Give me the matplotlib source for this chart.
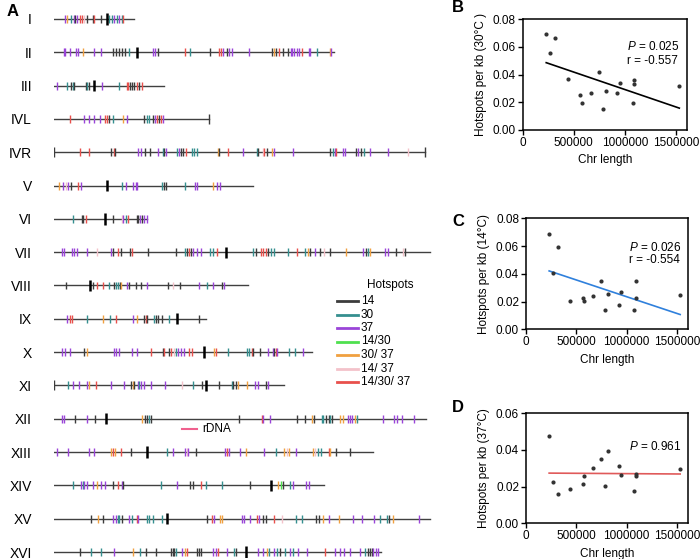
"""Hotspot map along yeast chromosomes (A) + hotspot density vs chromosome length (B-D)."""
import matplotlib

matplotlib.use("Agg")
import matplotlib.pyplot as plt
import numpy as np
from matplotlib.lines import Line2D
from matplotlib.ticker import FormatStrFormatter

plt.rcParams["font.family"] = ["Liberation Sans", "DejaVu Sans"]
plt.rcParams["mathtext.fontset"] = "custom"
plt.rcParams["mathtext.it"] = "Liberation Sans:italic"
plt.rcParams["mathtext.rm"] = "Liberation Sans"

# ---------------------------------------------------------------- panel A data
CHR_NAMES = ["I", "II", "III", "IVL", "IVR", "V", "VI", "VII", "VIII", "IX",
             "X", "XI", "XII", "XIII", "XIV", "XV", "XVI"]
CHR_LEN_KB = [230, 813, 317, 449, 1077, 577, 270, 1091, 563, 440,
              747, 667, 1079, 924, 784, 1091, 948]
CEN_KB = [152, 239, 116, None, None, 152, 148, 497, 105, 355,
          435, 440, 150, 268, 628, 326, 556]
EDGE_KB = [[], [], [], [449], [0, 1077], [], [], [], [], [],
           [], [0], [], [], [], [], []]

# hotspot type codes: a=14 b=30 c=37 d=14/30 e=30/37 f=14/37 g=14/30/37
HS_CODES = "abcdefg"
HS_LABELS = ["14", "30", "37", "14/30", "30/ 37", "14/ 37", "14/30/ 37"]
HS_COLORS = ["#3c3c3c", "#358f8f", "#9a45d8", "#4fe04f", "#f0a040", "#f3c2ca", "#e8504c"]

hs_I = [31, 37, 48, 57, 61, 67, 75, 80, 85, 94, 111, 116, 135, 159, 167, 173, 181, 189, 196, 200]
ty_I = "cebcacggfaagabbcbcbg"
hs_II = [28, 32, 45, 64, 70, 84, 116, 136, 171, 179, 188, 196, 205, 218, 287, 292, 302, 380, 394,
         452, 477, 483, 491, 500, 506, 515, 564, 633, 637, 644, 653, 663, 679, 686, 691, 697, 704,
         711, 718, 738, 742, 762, 799, 803]
ty_II = "cccccecc" "aaaaab" "ccagb" "aggcaccc" "aeagaa" "ccccc" "gccbec"
hs_III = [9, 36, 49, 53, 57, 91, 96, 102, 139, 188, 210, 215, 220, 225, 231, 239, 247, 254]
ty_III = "cbabaabacbggaaagag"
hs_IVL = [47, 87, 102, 116, 133, 147, 154, 160, 169, 198, 212, 261, 268, 275, 287, 292, 297, 303, 309, 315]
ty_IVL = "gccccggabecabbacgagc"
hs_IVR = [75, 102, 165, 172, 177, 242, 252, 264, 278, 300, 315, 318, 323, 356, 361, 368, 374, 383,
          400, 405, 414, 474, 479, 503, 547, 589, 592, 605, 610, 617, 631, 639, 692, 801, 809, 815,
          818, 837, 844, 876, 883, 891, 900, 916, 970, 1026]
ty_IVR = "ggaga" "ccaac" "bacbc" "aagbb" "beagc" "bafga" "eccab" "cgcca" "cabcc" "f"
hs_V = [15, 26, 33, 39, 49, 70, 78, 196, 207, 227, 236, 241, 312, 317, 324, 378, 409, 415, 462, 473, 481]
ty_V = "ecfcagcbccccbaabccecc"
hs_VI = [55, 79, 84, 92, 171, 196, 200, 208, 213, 239, 244, 249, 256, 260, 268]
ty_VI = "baagafcbgaacacc"
hs_VII = [23, 28, 52, 57, 65, 94, 123, 165, 171, 186, 194, 220, 225, 273, 352, 380, 386, 390, 396,
          402, 413, 426, 452, 460, 473, 578, 585, 599, 607, 615, 620, 628, 638, 678, 704, 729, 735,
          741, 756, 770, 783, 801, 847, 895, 904, 911, 917, 960, 968, 992, 1013, 1018]
ty_VII = "ccccccfcag" "aagaabagac" "ccbbgbaggg" "abbbgbeaca" "faecabecca" "fa"
hs_VIII = [34, 111, 123, 142, 160, 173, 178, 186, 191, 194, 210, 218, 237, 251, 268, 329, 346, 365,
           421, 442, 462, 486, 492]
ty_VIII = "aaggbabbaecaaacafacbcac"
hs_IX = [38, 45, 51, 96, 140, 162, 178, 227, 239, 260, 265, 270, 290, 295, 302, 312, 334, 420]
ty_IX = "cggbebgceagabaaaba"
hs_X = [22, 32, 45, 87, 96, 173, 179, 187, 225, 239, 280, 315, 319, 334, 338, 348, 352, 358, 367,
        377, 392, 401, 465, 469, 505, 559, 566, 573, 578, 597, 620, 634, 638, 643, 646, 682, 699, 723]
ty_X = "cccaeccccc" "gagagfbccc" "ggegbbbgaa" "ccagcbbc"
hs_XI = [41, 55, 72, 94, 102, 120, 165, 202, 223, 227, 232, 242, 247, 251, 261, 280, 321, 370, 404,
         428, 477, 515, 520, 527, 532, 559, 583, 590, 614, 619]
ty_XI = "bcccegccae" "acbccccfba" "abaaeeccac"
hs_XII = [23, 29, 60, 94, 118, 254, 263, 268, 276, 281, 537, 602, 605, 626, 704, 728, 747, 755, 776,
          781, 788, 796, 801, 806, 830, 837, 852, 857, 863, 873, 878, 953, 987, 996, 1009, 1043]
ty_XII = "ccacaeaaba" "agccaaeabb" "aabaeeccce" "bccccc"
hs_XIII = [7, 41, 102, 116, 166, 171, 176, 193, 222, 326, 346, 378, 384, 389, 410, 496, 501, 507,
           539, 557, 610, 644, 668, 675, 682, 702, 752, 757, 765, 774, 796, 801, 818, 857]
ty_XIII = "ccccegegab" "ccfcacgcce" "cbefecefbb" "geaa"
hs_XIV = [53, 77, 82, 86, 96, 111, 123, 136, 147, 169, 186, 196, 200, 310, 355, 394, 402, 426, 440,
          488, 568, 650, 657, 663, 684, 692, 731, 738]
ty_XIV = "bcbcccecca" "gcabcaagbb" "aedabccc"
hs_XV = [106, 128, 140, 171, 178, 184, 189, 196, 218, 225, 239, 244, 268, 276, 287, 314, 442, 459,
         463, 481, 486, 546, 551, 568, 588, 594, 607, 614, 638, 660, 701, 718, 760, 767, 781, 796,
         825, 868, 892, 928, 946, 967, 973, 984, 1060]
ty_XV = "aeaccbbacb" "gcbbbbagce" "ecccgcaagf" "bbaaececcc" "bbaec"
hs_XVI = [76, 106, 136, 174, 229, 249, 265, 295, 339, 344, 348, 352, 370, 379, 386, 413, 421, 426,
          462, 469, 476, 500, 523, 528, 592, 607, 617, 624, 639, 646, 655, 670, 684, 694, 707, 733,
          786, 815, 830, 841, 859, 888, 902, 910, 917, 922, 926, 933, 939]
ty_XVI = "abbcebaaaa" "abcegaaacc" "gcbaccebcb" "abcbccgccc" "ccbaaaccc"

HOTSPOTS = [(hs_I, ty_I), (hs_II, ty_II), (hs_III, ty_III), (hs_IVL, ty_IVL), (hs_IVR, ty_IVR),
            (hs_V, ty_V), (hs_VI, ty_VI), (hs_VII, ty_VII), (hs_VIII, ty_VIII), (hs_IX, ty_IX),
            (hs_X, ty_X), (hs_XI, ty_XI), (hs_XII, ty_XII), (hs_XIII, ty_XIII), (hs_XIV, ty_XIV),
            (hs_XV, ty_XV), (hs_XVI, ty_XVI)]

# ------------------------------------------------------------- panels B-D data
chr_len = [230000, 270000, 317000, 440000, 563000, 577000, 667000, 746000, 784000, 813000,
           924000, 948000, 1078000, 1091000, 1091000, 1532000]
dens_30 = [0.0694, 0.0557, 0.0665, 0.0365, 0.0250, 0.0192, 0.0269, 0.0415, 0.0154, 0.0283,
           0.0269, 0.0338, 0.0194, 0.0358, 0.0331, 0.0319]
dens_14 = [0.0689, 0.0404, 0.0593, 0.0204, 0.0228, 0.0207, 0.0238, 0.0346, 0.0139, 0.0257,
           0.0173, 0.0271, 0.0137, 0.0346, 0.0228, 0.0247]
dens_37 = [0.0478, 0.0224, 0.0160, 0.0185, 0.0215, 0.0260, 0.0300, 0.0351, 0.0205, 0.0395,
           0.0315, 0.0265, 0.0178, 0.0267, 0.0256, 0.0295]

W, H = 700, 559
fig = plt.figure(figsize=(W / 100, H / 100), dpi=100)


def fx(px):
    return px / W


def fy(py):
    return 1 - py / H


# ------------------------------------------------------------------- panel A
PX_PER_KB = 0.3445
X0 = 54.3
axA = fig.add_axes([fx(X0), fy(558), 1100 * PX_PER_KB / W, 553 / H])
axA.set_xlim(0, 1100)
axA.set_ylim(16.18, -0.42)
axA.axis("off")

for row, name in enumerate(CHR_NAMES):
    axA.plot([0, CHR_LEN_KB[row]], [row, row], color="#404040", lw=1.0, zorder=1)
    pos, types = HOTSPOTS[row]
    cols = [HS_COLORS[HS_CODES.index(t)] for t in types]
    axA.vlines(pos, row - 0.12, row + 0.12, colors=cols, lw=1.0, zorder=2)
    if CEN_KB[row] is not None:
        axA.vlines(CEN_KB[row], row - 0.17, row + 0.17, colors="black", lw=1.8, zorder=3)
    if EDGE_KB[row]:
        axA.vlines(EDGE_KB[row], row - 0.15, row + 0.15, colors="#3c3c3c", lw=1.0, zorder=3)
    axA.text(-(X0 - 32) / PX_PER_KB, row, name, ha="right", va="center_baseline",
             fontsize=10, clip_on=False)

fig.text(fx(7), fy(12), "A", fontsize=12, fontweight="bold", va="center", ha="left")

# hotspot legend
fig.text(fx(390), fy(285), "Hotspots", fontsize=8.5, ha="center", va="center")
for i, (lab, col) in enumerate(zip(HS_LABELS, HS_COLORS)):
    yy = fy(301 + i * 13.5)
    fig.add_artist(Line2D([fx(337), fx(358)], [yy, yy], color=col, lw=2,
                          transform=fig.transFigure))
    fig.text(fx(361), yy, lab, fontsize=8.5, va="center", ha="left")

fig.add_artist(Line2D([fx(182), fx(197)], [fy(429), fy(429)], color="#f0608e", lw=1.5,
                      transform=fig.transFigure))
fig.text(fx(202), fy(429), "rDNA", fontsize=8.5, va="center", ha="left")


# ------------------------------------------------------------- panels B-D
def scatter_panel(rect, dens, ymax, line_color, ylabel, stats, letter, letter_y):
    ax = fig.add_axes(rect)
    ax.scatter(chr_len, dens, s=9, color="#333333", zorder=3, linewidths=0)
    k, b = np.polyfit(chr_len, dens, 1)
    xs = np.array([min(chr_len), max(chr_len)])
    ax.plot(xs, k * xs + b, color=line_color, lw=1.2, zorder=2)
    ax.set_xlim(0, 1.61e6)
    ax.set_ylim(0, ymax)
    ax.set_xticks([0, 500000, 1000000, 1500000])
    ax.set_xticklabels(["0", "500000", "1000000", "1500000"])
    ax.set_yticks(np.arange(0, ymax + 1e-9, 0.02))
    ax.yaxis.set_major_formatter(FormatStrFormatter("%.2f"))
    ax.tick_params(direction="out", length=3.5, width=1, labelsize=8.5, pad=1.5)
    for sp in ax.spines.values():
        sp.set_linewidth(1.1)
    ax.set_xlabel("Chr length", fontsize=8.5, labelpad=4)
    ax.set_ylabel(ylabel, fontsize=8.5, labelpad=4)
    for txt, yf in stats:
        ax.text(0.635, yf, txt, transform=ax.transAxes, fontsize=8.5, ha="left", va="center")
    fig.text(fx(458), fy(letter_y), letter, fontsize=12, fontweight="bold", ha="center",
             va="center")
    return ax


scatter_panel([fx(522.7), fy(130), 164.6 / W, 111 / H], dens_30, 0.08, "black",
              "Hotspots per kb (30°C )",
              [("$P$ = 0.025", 0.748), ("r = -0.557", 0.622)], "B", 8)
scatter_panel([fx(526), fy(329.3), 162 / W, 111 / H], dens_14, 0.08, "#2f80dc",
              "Hotspots per kb (14°C)",
              [("$P$ = 0.026", 0.739), ("r = -0.554", 0.62)], "C", 222)
scatter_panel([fx(526), fy(523.3), 162 / W, 110 / H], dens_37, 0.06, "#e05a5a",
              "Hotspots per kb (37°C)",
              [("$P$ = 0.961", 0.696)], "D", 408)

fig.savefig("out.png", dpi=100)
